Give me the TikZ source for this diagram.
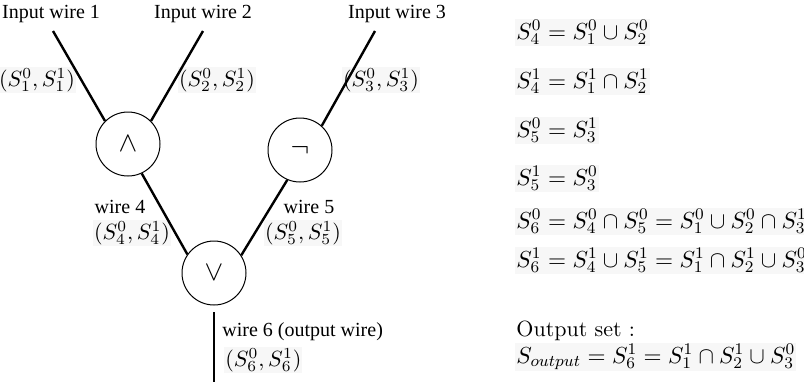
\documentclass[tikz,border=0pt]{standalone}
\usepackage{fix-cm}
\usepackage{fontspec}
\setmainfont{Liberation Serif}
\newfontfamily\lmroman{Latin Modern Roman}
\begin{document}
\begin{tikzpicture}[x=0.5pt,y=-0.5pt,
  gate/.style={draw,circle,line width=0.5pt,minimum size=32pt,inner sep=0pt,font=\fontsize{14}{16}\selectfont},
  wire/.style={line width=1.2pt},
  lbl/.style={inner sep=0pt,font=\fontsize{10}{12}\selectfont},
  mlbl/.style={inner sep=0.5pt,fill=black!3,font=\fontsize{11}{13}\selectfont},
  eqn/.style={anchor=base west,inner sep=0.5pt,fill=black!3,font=\fontsize{11.6}{14}\selectfont}]
\useasboundingbox (0,0) rectangle (804,382);

% gates
\node[gate] (and) at (128,144) {$\wedge$};
\node[gate] (not) at (300,150) {$\neg$};
\node[gate] (or)  at (214,273) {$\vee$};

% wire labels
\node[lbl] (t1) at (51,14) {Input wire 1};
\node[lbl] (t2) at (203,14) {Input wire 2};
\node[lbl] (t3) at (397,14) {Input wire 3};
\node[mlbl] (s1) at (37,80) {$(S_1^0,S_1^1)$};
\node[mlbl] (s2) at (217,80) {$(S_2^0,S_2^1)$};
\node[mlbl] (s3) at (381,80) {$(S_3^0,S_3^1)$};
\node[lbl] (t4) at (120,207) {wire 4};
\node[mlbl] (s4) at (132,233) {$(S_4^0,S_4^1)$};
\node[lbl] (t5) at (309,207) {wire 5};
\node[mlbl] (s5) at (303,233) {$(S_5^0,S_5^1)$};
\node[lbl,anchor=west] (t6) at (222,332) {wire 6 (output wire)};
\node[mlbl,anchor=west] (s6) at (224,360) {$(S_6^0,S_6^1)$};

% wire ends
\coordinate (in1) at (53,31);
\coordinate (in2) at (203,31);
\coordinate (in3) at (375,31);
\coordinate (out0) at (214,312);
\coordinate (out1) at (214,382);

% wires
\draw[wire] (in1) -- (and.135);
\draw[wire] (in2) -- (and.45);
\draw[wire] (in3) -- (not.48);
\draw[wire] (and.-65) -- (or.145);
\draw[wire] (not.-113) -- (or.33);
\draw[wire] (out0) -- (out1);

% set equations
\node[eqn] (e1) at (515,39) {$S_4^0=S_1^0\cup S_2^0$};
\node[eqn] (e2) at (515,88) {$S_4^1=S_1^1\cap S_2^1$};
\node[eqn] (e3) at (515,137) {$S_5^0=S_3^1$};
\node[eqn] (e4) at (515,185) {$S_5^1=S_3^0$};
\node[eqn] (e5) at (515,228) {$S_6^0=S_4^0\cap S_5^0=S_1^0\cup S_2^0\cap S_3^1$};
\node[eqn] (e6) at (515,267) {$S_6^1=S_4^1\cup S_5^1=S_1^1\cap S_2^1\cup S_3^0$};
\node[anchor=base west,inner sep=0.5pt,font=\lmroman\fontsize{11}{13}\selectfont] (e7) at (515,336) {Output set :};
\node[eqn] (e8) at (515,363) {$S_{output}=S_6^1=S_1^1\cap S_2^1\cup S_3^0$};
\end{tikzpicture}
\end{document}
